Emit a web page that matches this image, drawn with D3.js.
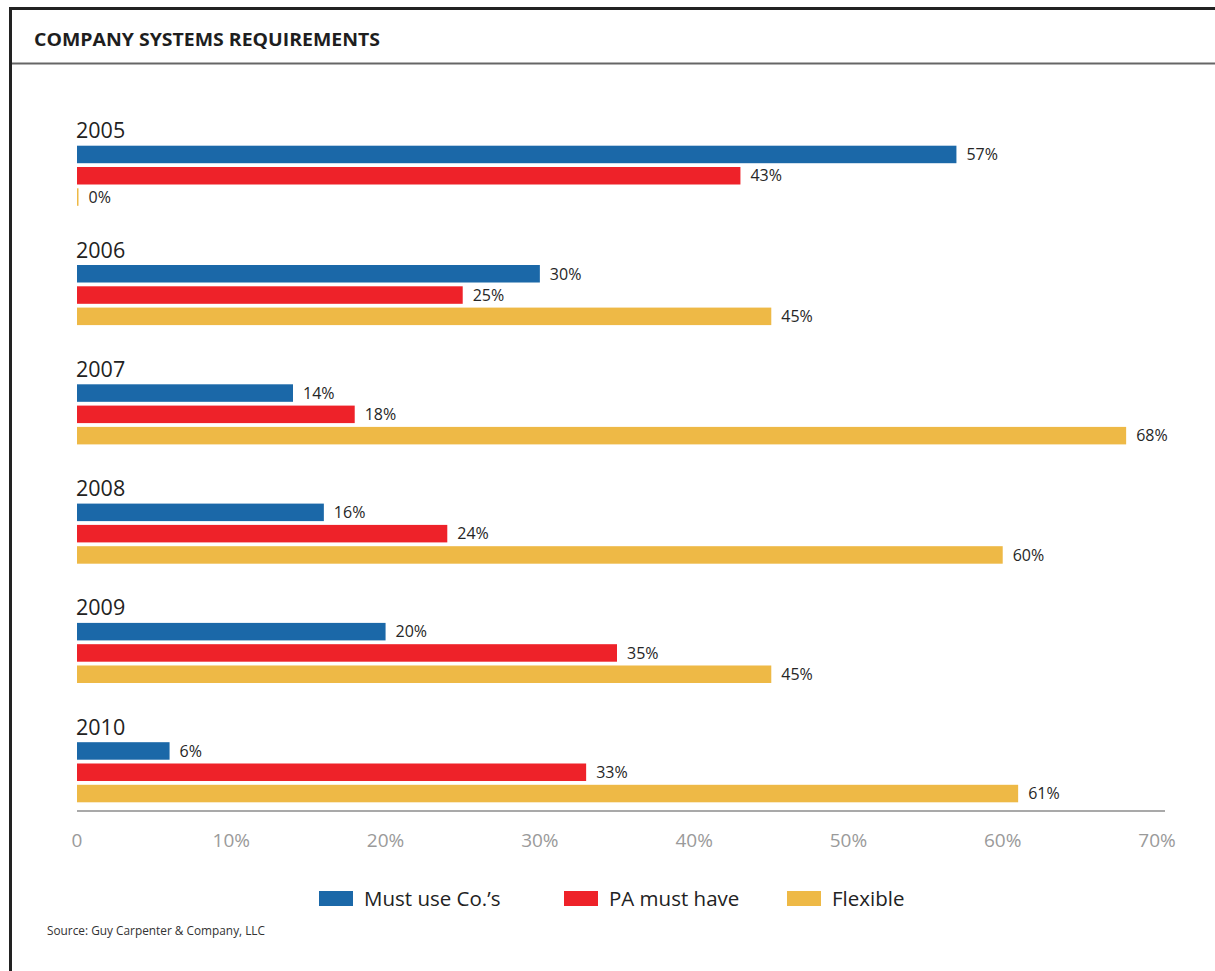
<!DOCTYPE html>
<html>
<head>
<meta charset="utf-8">
<script src="https://cdn.jsdelivr.net/npm/d3@7"></script>
<style>
  html, body { margin: 0; padding: 0; background: #fff; }
  svg { display: block; font-family: "Open Sans", "Noto Sans", sans-serif; }
</style>
</head>
<body>
<svg id="chart" width="1215" height="971"></svg>
<script>
// Survey results: share of respondents per requirement type, by year
const years = ["2005", "2006", "2007", "2008", "2009", "2010"];
const seriesNames = ["Must use Co.\u2019s", "PA must have", "Flexible"];
const mustUse = [57, 30, 14, 16, 20, 6];
const paMustHave = [43, 25, 18, 24, 35, 33];
const flexible = [0, 45, 68, 60, 45, 61];
const tickValues = [0, 10, 20, 30, 40, 50, 60, 70];
const tickLabels = ["0", "10%", "20%", "30%", "40%", "50%", "60%", "70%"];
const colors = ["#1b68a8", "#ee2229", "#eeb946"];

const seriesValues = [mustUse, paMustHave, flexible];

const svg = d3.select("#chart");

// Frame: heavy top and left rules, title divider
svg.append("line").attr("x1", 9).attr("x2", 1215).attr("y1", 8.5).attr("y2", 8.5)
  .attr("stroke", "#222").attr("stroke-width", 3);
svg.append("line").attr("x1", 10.5).attr("x2", 10.5).attr("y1", 7).attr("y2", 971)
  .attr("stroke", "#222").attr("stroke-width", 3);
svg.append("line").attr("x1", 12).attr("x2", 1215).attr("y1", 63.5).attr("y2", 63.5)
  .attr("stroke", "#666").attr("stroke-width", 2);

svg.append("text")
  .attr("x", 34).attr("y", 45.5)
  .attr("font-size", 17.5).attr("font-weight", 700).attr("fill", "#1e1e1e")
  .attr("textLength", 346).attr("lengthAdjust", "spacingAndGlyphs")
  .text("COMPANY SYSTEMS REQUIREMENTS");

// Scales
const x = d3.scaleLinear().domain([0, 70]).range([77, 1157]);
const groupStep = 119.3;
const yGroup = d3.scaleBand().domain(years)
  .range([145.7, 145.7 + groupStep * years.length]).paddingInner(0).paddingOuter(0);
const ySeries = d3.scaleBand().domain(seriesNames).range([0, 60.1]).paddingInner(0.178);

const groups = svg.append("g").selectAll("g.year")
  .data(years).join("g")
  .attr("class", "year")
  .attr("transform", d => `translate(0,${yGroup(d)})`);

groups.append("text")
  .attr("x", 76).attr("y", -7.5)
  .attr("font-size", 21.5).attr("fill", "#222")
  .text(d => d);

groups.each(function (year, i) {
  const g = d3.select(this);
  seriesNames.forEach((name, s) => {
    const v = seriesValues[s][i];
    const y = ySeries(name);
    const w = Math.max(x(v) - x(0), 1.5);
    g.append("rect")
      .attr("x", x(0)).attr("y", y)
      .attr("width", w).attr("height", ySeries.bandwidth())
      .attr("fill", colors[s]);
    g.append("text")
      .attr("x", x(0) + w + 10).attr("y", y + ySeries.bandwidth() / 2)
      .attr("dy", "0.36em")
      .attr("font-size", 16).attr("fill", "#262626")
      .text(v + "%");
  });
});

// Bottom axis
svg.append("line").attr("x1", 77).attr("x2", 1165).attr("y1", 811).attr("y2", 811)
  .attr("stroke", "#8c8c8c").attr("stroke-width", 1.6);

svg.append("g").selectAll("text")
  .data(tickValues).join("text")
  .attr("x", d => x(d)).attr("y", 847)
  .attr("text-anchor", "middle")
  .attr("font-size", 19).attr("fill", "#9a9a9a")
  .text((d, i) => tickLabels[i]);

// Legend
const legendX = [319, 564, 787];
const legend = svg.append("g").selectAll("g")
  .data(seriesNames).join("g")
  .attr("transform", (d, i) => `translate(${legendX[i]},891)`);
legend.append("rect").attr("width", 34).attr("height", 15)
  .attr("fill", (d, i) => colors[i]);
legend.append("text").attr("x", 45).attr("y", 14.5)
  .attr("font-size", 20.5).attr("fill", "#222")
  .text(d => d);

svg.append("text")
  .attr("x", 47).attr("y", 935)
  .attr("font-size", 13).attr("fill", "#333")
  .attr("textLength", 218).attr("lengthAdjust", "spacingAndGlyphs")
  .text("Source: Guy Carpenter & Company, LLC");
</script>
</body>
</html>
